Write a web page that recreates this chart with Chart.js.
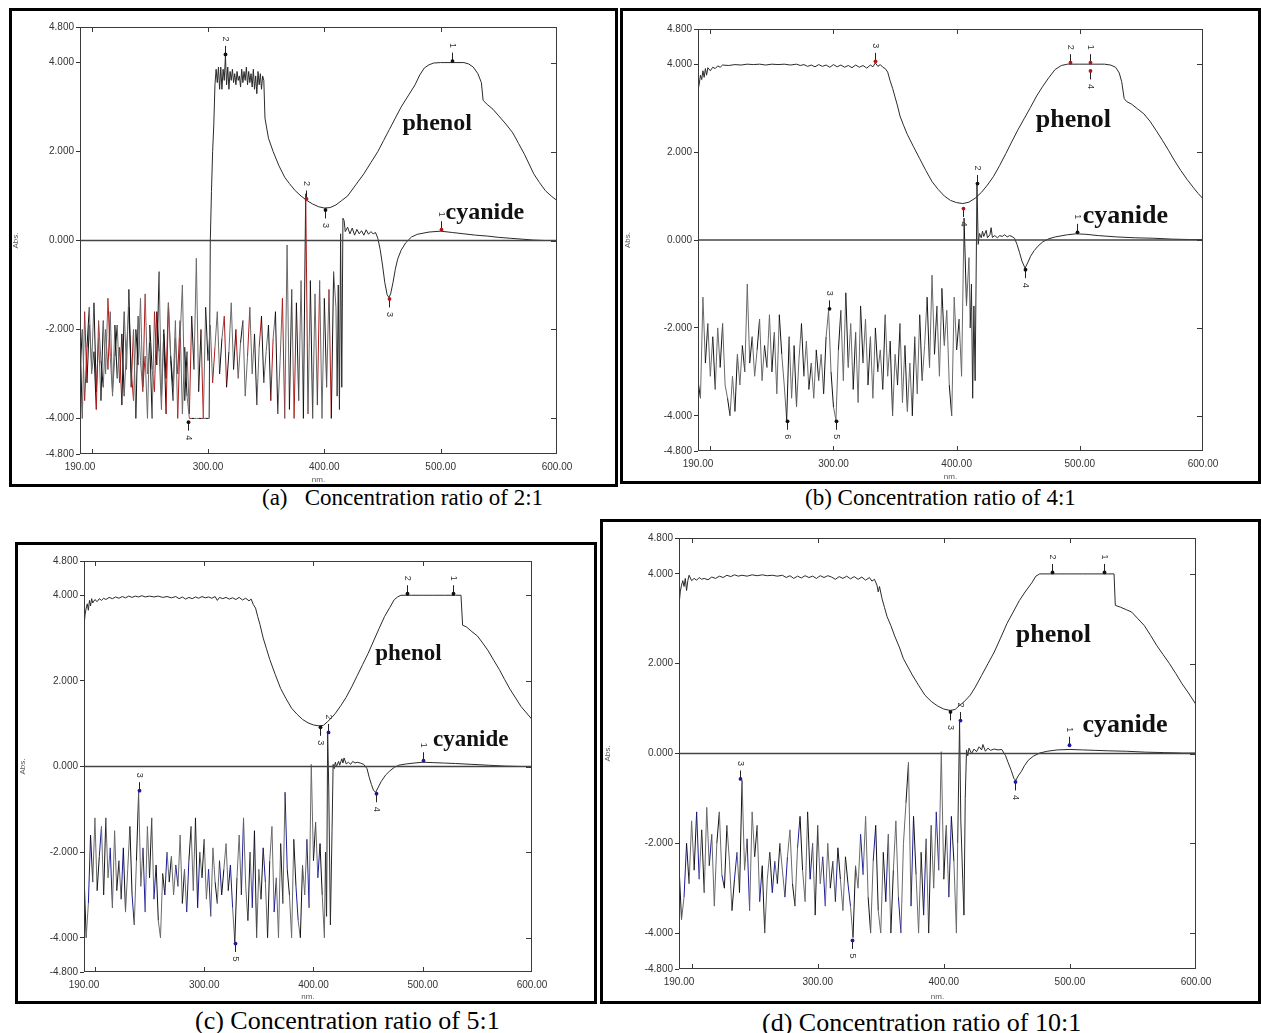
<!DOCTYPE html>
<html><head><meta charset="utf-8">
<script src="https://cdn.jsdelivr.net/npm/chart.js@4.4.1/dist/chart.umd.min.js"></script>
<style>
body{margin:0;background:#fff;width:1261px;height:1033px;position:relative;overflow:hidden;}
.box{position:absolute;border:3px solid #000;box-sizing:border-box;}
.cap{position:absolute;font-family:"Liberation Serif","Times New Roman",serif;font-size:26px;line-height:26px;color:#000;white-space:pre;}
.cap.small{font-size:23px;line-height:23px;}
canvas{position:absolute;}
</style></head><body>
<div class="box" style="left:9px;top:8px;width:609px;height:479px"></div>
<div class="box" style="left:620px;top:8px;width:641px;height:476px"></div>
<div class="box" style="left:15px;top:542px;width:582px;height:462px"></div>
<div class="box" style="left:600px;top:519px;width:661px;height:485px"></div>
<div class="cap small" style="left:262px;top:486px">(a)   Concentration ratio of 2:1</div>
<div class="cap small" style="left:805px;top:486px">(b) Concentration ratio of 4:1</div>
<div class="cap" style="left:195px;top:1008px">(c) Concentration ratio of 5:1</div>
<div class="cap" style="left:762px;top:1010px">(d) Concentration ratio of 10:1</div>
<script>
// ---------- axis ticks ----------
const xTickLabels = [190, 300, 400, 500, 600];
const yTickLabels = [-4.8, -4, -2, 0, 2, 4, 4.8];
const xInnerTicks = [200, 300, 400, 500];
const yInnerTicks = [-4, -2, 0, 2, 4];
const baseNm = [190, 600];
const baseAbs = [0, 0];

// ---------- shared wavelength grid of the noisy region (nm) ----------
const noiseNm = [190,192,194,196,198,200,202,204,206,208,
 210,212,214,216,218,220,222,224,226,228,
 230,232,234,236,238,240,242,244,246,248,
 250,252,254,256,258,260,262,264,266,268,
 270,272,274,276,278,280,282,284,286,288,
 290,292,294,296,298,300,302,304,306,308,
 310,312,314,316,318,320,322,324,326,328,
 330,332,334,336,338,340,342,344,346,348,
 350,352,354,356,358,360,362,364,366,368,
 370,372,374,376,378,380,382,384,386,388,
 390,392,394,396,398,400,402,404,406,408,
 410];

// ---------- (a) 2:1 ----------
const aPhenolNoise = [-3.0,-2.0,-3.6,-2.4,-1.5,-3.0,-2.5,-3.8,-1.8,-2.7,
 -3.3,-2.0,-2.9,-1.6,-3.4,-2.6,-1.9,-3.2,-2.1,-3.5,
 -2.4,-1.5,-2.9,-3.6,-2.0,-2.8,-1.3,-3.3,-2.6,-4.0,
 -1.9,-2.9,-3.4,-1.6,-2.5,-3.8,-2.0,-3.1,-1.4,-2.7,
 -3.6,-2.2,-3.0,-1.8,-3.9,-2.4,-3.5,
 -4.0,-4.0,-4.0,-4.0,-4.0,-4.0,-4.0,-4.0,-4.0];
const aPhenolTail = [[301,-4.0],[302,0.0],[303,1.1],[304,2.0],[305,2.6],[306,3.5],[307,3.85],
 [308,3.55],[309,3.9],[310,3.4],[311,3.9],[312,3.4],[313,3.85],[314,3.6],[315,4.15],[316,3.5],[317,3.9],
 [318,3.4],[319,3.8],[320,3.6],[321,3.85],[322,3.55],[323,3.75],[324,3.5],[325,3.8],[326,3.6],[327,3.7],
 [328,3.45],[329,3.85],[330,3.55],[331,3.8],[332,3.6],[333,3.9],[334,3.5],[335,3.8],[336,3.55],[337,3.75],
 [338,3.45],[339,3.85],[340,3.4],[341,3.7],[342,3.3],[343,3.8],[344,3.5],[345,3.75],[346,3.4],[347,3.7],[348,3.6],
 [349,2.75],[352,2.3],[356,2.0],[361,1.68],[366,1.42],[370,1.28],[375,1.12],[380,1.0],[385,0.9],[390,0.82],
 [395,0.76],[400,0.73],[405,0.74],[410,0.8],[415,0.9],[420,1.0],[427,1.25],[434,1.5],[440,1.75],[446,2.0],
 [451,2.25],[456,2.5],[461,2.75],[466,3.0],[472,3.25],[478,3.5],[482,3.72],[486,3.88],[490,3.95],[494,3.99],
 [500,4.0],[510,4.0],[520,4.0],[524,3.97],[528,3.9],[532,3.75],[535,3.55],[536.5,3.15],[540,3.06],[545,2.95],
 [550,2.8],[556,2.62],[562,2.42],[567,2.18],[572,1.94],[576,1.72],[580,1.5],[585,1.3],[590,1.12],[595,1.0],[600,0.9]];
const aCyanideNoise = [-2.1,-4.0,-1.6,-3.2,-1.9,-2.8,-1.4,-3.4,-2.2,-3.6,
 -1.8,-3.0,-1.3,-2.6,-3.5,-1.9,-3.1,-2.4,-3.7,-1.6,
 -2.9,-1.1,-3.3,-2.0,-4.0,-1.7,-2.7,-3.4,-1.2,-3.0,
 -2.3,-4.0,-1.6,-2.8,-0.7,-3.5,-2.1,-3.9,-1.4,-2.6,
 -3.3,-1.8,-4.0,-2.2,-1.0,-3.6,-2.5,-3.9,-1.7,-2.9,
 -0.4,-3.4,-2.0,-4.0,-1.5,-2.7,-1.9,-3.2,-2.4,-1.6,
 -3.0,-2.2,-1.7,-3.3,-2.5,-1.4,-2.9,-2.0,-3.1,-2.3,
 -1.8,-3.5,-2.6,-1.5,-3.0,-2.1,-3.7,-2.4,-1.7,-3.2,
 -2.5,-1.9,-3.6,-2.2,-1.6,-3.9,-2.7,-1.3,-4.0,-0.1,
 -3.8,-1.1,-4.0,-1.4,-3.6,-0.9,-4.0,1.05,-3.9,-0.9,
 -4.0,-1.2,-3.7,-0.9,-4.0,-1.3,-3.3,-1.1,-4.0,-0.7,
 -1.5];
const aCyanideTail = [[411,-3.5],[412,-1.0],[413,-3.8],[414,0.15],[415,-3.3],[416,0.5],[417,0.45],[418,0.2],
 [420,0.3],[422,0.15],[424,0.28],[426,0.12],[428,0.25],[430,0.15],[432,0.22],[434,0.12],[436,0.24],[438,0.14],
 [440,0.2],[442,0.15],[444,0.18],[446,0.05],[448,-0.2],[450,-0.55],[452,-0.95],[454,-1.22],[455.5,-1.28],
 [457,-1.2],[459,-0.95],[461,-0.65],[463,-0.42],[466,-0.22],[470,-0.05],[475,0.08],[480,0.14],[490,0.19],
 [500,0.21],[510,0.18],[520,0.15],[530,0.12],[540,0.1],[550,0.07],[560,0.05],[570,0.03],[580,0.01],[590,0],[600,0]];
const aMarkers = [[315,4.15,'2','a','#111'],[384,0.9,'2','a','#b01818'],[401,0.72,'3','b','#111'],
 [510,4.0,'1','a','#111'],[500,0.21,'1','a','#b01818'],[455.5,-1.28,'3','b','#b01818'],[283,-4.05,'4','b','#111']];

// ---------- (b) 4:1 ----------
const bPhenol = [[190,3.4],[191,3.55],[192,3.75],[193,3.65],[194,3.85],[195,3.7],[196,3.9],[197,3.75],[198,3.92],
 [200,3.85],[202,3.93],[204,3.9],[206,3.96],[208,3.93],[210,3.98],[215,3.97],[220,3.99],[225,3.98],[230,4.0],
 [235,3.99],[240,4.0],[245,3.98],[250,4.0],[255,3.99],[260,4.0],[265,3.98],[270,4.0],[273,3.97],[276,3.99],
 [279,3.95],[282,3.98],[285,3.94],[288,3.99],[291,3.95],[294,3.98],[297,3.93],[300,3.99],[303,3.94],[306,3.98],
 [309,3.93],[312,3.97],[315,3.92],[318,3.98],[321,3.93],[324,3.97],[327,3.91],[330,3.98],[332,3.94],[334,4.03],
 [336,3.95],[338,3.99],[340,3.93],[342,3.9],[344,3.82],[346,3.62],[348,3.45],[350,3.25],[352,3.05],[354,2.82],
 [357,2.6],[360,2.4],[365,2.12],[370,1.85],[375,1.58],[380,1.33],[385,1.15],[390,1.0],[395,0.9],[400,0.85],
 [405,0.83],[410,0.86],[415,0.95],[420,1.08],[425,1.25],[430,1.45],[435,1.7],[440,1.97],[445,2.25],[450,2.52],
 [455,2.77],[460,3.02],[465,3.28],[470,3.5],[475,3.7],[480,3.88],[485,3.97],[490,4.0],[500,4.0],[510,4.0],
 [520,4.0],[525,3.98],[529,3.93],[532,3.8],[534,3.6],[536,3.22],[538,3.15],[542,3.09],[547,2.98],[552,2.87],
 [557,2.7],[562,2.49],[567,2.27],[572,2.04],[577,1.8],[582,1.58],[587,1.38],[592,1.2],[596,1.06],[600,0.94]];
const bCyanideNoise = [-3.2,-3.6,-1.3,-2.8,-1.9,-3.1,-2.2,-3.4,-2.0,-2.9,
 -1.9,-3.3,-3.6,-4.0,-3.1,-3.9,-2.6,-3.3,-2.4,-3.0,
 -1.0,-2.8,-2.2,-3.1,-2.5,-1.8,-3.2,-2.4,-2.9,-1.7,
 -3.0,-2.1,-3.5,-1.7,-2.6,-3.3,-4.1,-2.2,-3.6,-2.4,
 -3.8,-2.7,-1.9,-3.1,-2.3,-3.4,-2.8,-3.6,-2.5,-3.2,
 -2.6,-3.5,-2.2,-1.6,-3.0,-3.8,-4.1,-2.5,-1.6,-3.2,
 -1.2,-2.9,-1.9,-3.4,-2.1,-3.7,-1.5,-2.8,-1.8,-3.3,
 -2.2,-3.6,-2.0,-3.0,-2.5,-3.4,-1.7,-3.1,-2.3,-4.0,
 -2.6,-3.3,-1.9,-3.7,-2.4,-3.9,-2.8,-4.0,-2.2,-3.5,
 -1.7,-3.2,-2.4,-1.3,-2.9,-0.8,-2.6,-1.5,-3.1,-1.1,
 -2.4,-1.6,-3.3,-4.0,-1.3,-2.5,-1.8,-3.1,0.5,-1.5,
 -0.4];
const bCyanideTail = [[411,-2.0],[412,-1.0],[413,-3.6],[414,-1.5],[415,-3.2],[416.5,1.25],[417.5,-0.1],[418.5,0.15],
 [420,0.05],[421,0.2],[422,0.08],[424,0.22],[425,0.05],[427,0.12],[428,0.28],[429,0.06],[431,0.1],[433,0.05],
 [435,0.1],[437,0.08],[439,0.12],[441,0.07],[443,0.1],[445,0.08],[447,0.04],[449,-0.1],[451,-0.28],[453,-0.48],
 [455.5,-0.64],[458,-0.5],[460,-0.37],[463,-0.24],[466,-0.14],[470,-0.04],[475,0.03],[480,0.07],[490,0.12],
 [497,0.14],[505,0.13],[515,0.1],[530,0.07],[545,0.05],[560,0.04],[575,0.02],[590,0.01],[600,0.01]];
const bMarkers = [[334,4.03,'3','a','#b01818'],[492,4.0,'2','a','#b01818'],[508.5,4.0,'1','a','#b01818'],
 [508.5,3.88,'4','b','#b01818'],[405.5,0.75,'4','b','#b01818'],[416.5,1.25,'2','a','#111'],
 [455.5,-0.64,'4','b','#111'],[497.5,0.14,'1','a','#111'],[296,-1.6,'3','a','#111'],
 [262.4,-4.09,'6','b','#111'],[302,-4.09,'5','b','#111']];

// ---------- (c) 5:1 ----------
const cPhenol = [[190,3.28],[191,3.55],[192,3.7],[193,3.8],[194,3.65],[195,3.88],[196,3.75],[197,3.92],[198,3.82],
 [200,3.9],[202,3.85],[204,3.92],[206,3.88],[208,3.93],[210,3.9],[213,3.95],[216,3.92],[219,3.96],[222,3.93],
 [225,3.97],[228,3.94],[231,3.98],[234,3.95],[237,3.98],[240,3.96],[243,3.99],[246,3.96],[250,3.98],[254,3.96],
 [258,3.98],[262,3.95],[266,3.97],[270,3.94],[274,3.97],[277,3.92],[280,3.96],[283,3.91],[286,3.95],[289,3.92],
 [292,3.96],[295,3.93],[298,3.97],[301,3.94],[304,3.96],[307,3.93],[310,3.97],[312,3.88],[314,3.95],[317,3.92],
 [320,3.95],[323,3.91],[326,3.94],[329,3.9],[332,3.95],[335,3.89],[338,3.93],[341,3.87],[343,3.91],[345,3.78],
 [347,3.7],[349,3.5],[351,3.32],[354,3.0],[357,2.75],[360,2.5],[365,2.15],[370,1.82],[375,1.58],[380,1.36],
 [385,1.22],[390,1.1],[395,1.02],[400,0.97],[405,0.95],[409,0.96],[413,1.05],[417,1.15],[420,1.24],[425,1.42],
 [430,1.62],[435,1.86],[440,2.12],[445,2.38],[450,2.64],[455,2.93],[460,3.22],[465,3.5],[470,3.72],[474,3.9],
 [477,3.96],[480,4.0],[490,4.0],[500,4.0],[510,4.0],[520,4.0],[530,4.0],[535,4.0],[536.5,3.3],[540,3.26],
 [545,3.15],[550,3.05],[555,2.88],[560,2.7],[565,2.48],[570,2.27],[575,2.03],[580,1.8],[585,1.6],[590,1.4],
 [595,1.25],[600,1.1]];
const cCyanideNoise = [-2.5,-4.0,-3.2,-1.6,-2.7,-1.2,-2.9,-2.1,-1.4,-3.0,
 -1.2,-2.6,-1.9,-3.3,-1.5,-2.9,-2.2,-3.1,-1.9,-3.4,
 -2.4,-1.4,-3.0,-3.7,-2.2,-0.6,-2.8,-1.9,-3.4,-1.4,
 -2.6,-1.2,-3.1,-2.3,-3.6,-4.0,-2.5,-3.0,-2.0,-2.7,
 -2.1,-3.0,-2.3,-2.8,-1.6,-3.2,-2.4,-3.4,-2.2,-1.4,
 -2.9,-1.2,-3.3,-2.0,-2.6,-1.7,-3.1,-2.4,-3.5,-1.9,
 -2.7,-3.2,-2.2,-3.0,-2.4,-1.8,-2.9,-2.3,-3.3,-4.1,
 -2.6,-1.6,-3.0,-1.2,-2.8,-3.6,-2.0,-3.3,-1.5,-4.0,
 -2.4,-3.1,-1.9,-2.7,-4.0,-2.2,-1.4,-3.4,-2.6,-4.0,
 -1.8,-3.2,-0.6,-2.4,-3.0,-4.0,-1.7,-2.8,-3.6,-4.0,
 -2.3,-3.0,-1.7,-3.3,0.05,-2.2,-1.3,-2.6,-1.8,-3.0,
 -4.0];
const cCyanideTail = [[411,-2.0],[412,-3.5],[413,0.76],[414,-0.5],[415.5,-3.7],[417,-1.5],[418,0.05],[419,-0.05],
 [420,0.1],[421,0.0],[423,0.12],[424,0.03],[426,0.18],[427,0.08],[428,0.2],[430,0.06],[432,0.1],[434,0.05],
 [436,0.12],[438,0.08],[440,0.1],[443,0.08],[446,0.05],[449,-0.05],[451,-0.25],[453,-0.42],[455,-0.56],
 [457,-0.6],[459,-0.5],[462,-0.35],[466,-0.2],[470,-0.1],[474,-0.02],[478,0.03],[485,0.06],[492,0.08],
 [500,0.1],[510,0.09],[520,0.08],[530,0.07],[545,0.05],[560,0.03],[575,0.01],[590,0],[600,0]];
const cMarkers = [[486,4.0,'2','a','#111'],[527.5,4.0,'1','a','#111'],[405.7,0.95,'3','b','#111'],
 [413,0.76,'2','a','#1b1b9a'],[240,-0.6,'3','a','#1b1b9a'],[328,-4.1,'5','b','#1b1b9a'],
 [457,-0.6,'4','b','#1b1b9a'],[500,0.1,'1','a','#1b1b9a']];

// ---------- (d) 10:1 ----------
const dPhenol = [[190,3.3],[191,3.6],[192,3.75],[193,3.85],[194,3.72],[195,3.9],[196,3.63],[197,3.85],[198,3.97],
 [200,3.85],[202,3.9],[204,3.86],[206,3.92],[208,3.88],[210,3.9],[213,3.87],[216,3.93],[219,3.9],[222,3.95],
 [225,3.92],[228,3.97],[231,3.94],[234,3.98],[237,3.95],[240,3.97],[244,3.95],[248,3.98],[252,3.96],[256,3.98],
 [260,3.96],[264,3.97],[268,3.95],[272,3.97],[275,3.92],[278,3.96],[281,3.9],[284,3.95],[287,3.91],[290,3.96],
 [293,3.92],[296,3.95],[299,3.9],[302,3.96],[305,3.92],[308,3.96],[311,3.93],[314,3.88],[317,3.94],[320,3.9],
 [323,3.95],[326,3.89],[329,3.94],[332,3.88],[335,3.93],[338,3.86],[341,3.92],[343,3.84],[345,3.88],[347,3.75],
 [348,3.6],[349,3.72],[351,3.45],[353,3.25],[355,3.05],[358,2.85],[361,2.62],[365,2.35],[368,2.11],[375,1.75],
 [380,1.52],[385,1.3],[390,1.16],[395,1.06],[400,0.99],[405,0.96],[409,0.98],[412,1.06],[416,1.15],[421,1.3],
 [425,1.48],[430,1.74],[435,2.0],[440,2.26],[445,2.57],[450,2.89],[455,3.15],[460,3.41],[465,3.62],[470,3.81],
 [473,3.95],[476,4.0],[490,4.0],[500,4.0],[510,4.0],[520,4.0],[530,4.0],[535,4.0],[536,3.3],[540,3.26],
 [545,3.2],[549,3.15],[554,3.0],[559,2.85],[564,2.63],[569,2.4],[574,2.2],[579,2.0],[584,1.78],[589,1.55],
 [594,1.35],[600,1.09]];
const dCyanideNoise = [-2.5,-3.7,-3.2,-2.0,-2.9,-1.5,-2.6,-1.3,-2.8,-1.7,
 -3.1,-1.2,-2.5,-1.8,-3.4,-2.0,-1.3,-2.7,-3.0,-1.6,
 -2.4,-3.5,-2.8,-2.2,-3.1,-0.6,-2.6,-1.9,-3.5,-1.3,
 -2.3,-1.6,-3.3,-2.5,-4.0,-2.8,-2.2,-3.1,-2.4,-2.9,
 -2.0,-2.6,-3.2,-2.3,-1.7,-2.9,-3.4,-2.1,-1.4,-2.6,
 -3.3,-1.3,-2.8,-2.0,-3.6,-1.6,-2.9,-2.3,-3.4,-2.0,
 -3.0,-2.4,-3.3,-2.1,-2.8,-3.5,-2.3,-2.9,-3.4,-4.1,
 -2.5,-3.0,-1.8,-2.7,-1.4,-3.2,-4.0,-2.4,-1.6,-3.5,
 -4.0,-2.2,-3.3,-1.8,-4.0,-2.6,-1.5,-3.2,-4.0,-2.0,
 -1.1,-0.2,-3.4,-1.4,-2.7,-4.0,-2.2,-3.6,-1.9,-4.0,
 -1.6,-3.0,-1.3,-2.6,0.04,-2.8,-1.6,-3.2,-1.4,-2.4,
 -4.0];
const dCyanideTail = [[411,-2.0],[412.5,0.7],[413.5,-1.5],[415,-2.8],[416,-3.6],[417,-1.0],[418,0.08],[419,-0.05],
 [420,0.12],[422,0.0],[424,0.1],[426,0.04],[428,0.15],[430,0.08],[431,0.2],[433,0.05],[435,0.12],[437,0.07],
 [440,0.1],[443,0.08],[446,0.09],[449,-0.05],[451,-0.2],[453.5,-0.38],[455.5,-0.55],[457,-0.6],[459,-0.5],
 [461.5,-0.4],[464,-0.27],[467,-0.15],[471,-0.06],[476,0.01],[482,0.05],[490,0.08],[500,0.09],[510,0.08],
 [520,0.07],[530,0.06],[545,0.05],[560,0.03],[575,0.02],[590,0.01],[600,0.01]];
const dMarkers = [[486,4.0,'2','a','#111'],[527,4.0,'1','a','#111'],[405,0.96,'3','b','#111'],
 [412.5,0.7,'2','a','#1b1b9a'],[238.5,-0.6,'3','a','#1b1b9a'],[327,-4.13,'5','b','#1b1b9a'],
 [456.7,-0.6,'4','b','#1b1b9a'],[499.6,0.15,'1','a','#1b1b9a']];

// ---------- helpers ----------
const fromGrid = (xs, ys) => ys.map((v, i) => ({x: xs[i], y: v}));
const fromPairs = p => p.map(q => ({x: q[0], y: q[1]}));

const specPlugin = {
  id: 'spec',
  afterDatasetsDraw(chart, args, o) {
    const {ctx, chartArea: a, scales: {x, y}} = chart;
    ctx.save();
    ctx.strokeStyle = '#3a3a3a'; ctx.lineWidth = 1;
    ctx.strokeRect(Math.round(a.left) + 0.5, Math.round(a.top) + 0.5, Math.round(a.right - a.left) - 1, Math.round(a.bottom - a.top) - 1);
    ctx.beginPath();
    xInnerTicks.forEach(v => { const px = Math.round(x.getPixelForValue(v)) + 0.5;
      ctx.moveTo(px, a.top); ctx.lineTo(px, a.top + 5); ctx.moveTo(px, a.bottom); ctx.lineTo(px, a.bottom - 5); });
    yInnerTicks.forEach(v => { const py = Math.round(y.getPixelForValue(v)) + 0.5;
      ctx.moveTo(a.right, py); ctx.lineTo(a.right - 6, py); });
    ctx.stroke();
    // peak markers
    o.markers.forEach(m => {
      const px = Math.round(x.getPixelForValue(m[0])) + 0.5, py = y.getPixelForValue(m[1]);
      const d = m[3] === 'a' ? -1 : 1;
      ctx.strokeStyle = '#222'; ctx.lineWidth = 1;
      ctx.beginPath(); ctx.moveTo(px, py + d * 2); ctx.lineTo(px, py + d * 10); ctx.stroke();
      ctx.fillStyle = m[4];
      ctx.beginPath(); ctx.arc(px, py + d * 1.5, 1.9, 0, Math.PI * 2); ctx.fill();
      ctx.save(); ctx.translate(px, py + d * 17); ctx.rotate(Math.PI / 2);
      ctx.fillStyle = '#333'; ctx.font = '9px "Liberation Sans"';
      ctx.textAlign = 'center'; ctx.textBaseline = 'middle'; ctx.fillText(m[2], 0, 0); ctx.restore();
    });
    // curve names
    ctx.fillStyle = '#111'; ctx.textAlign = 'center'; ctx.textBaseline = 'middle';
    o.texts.forEach(t => {
      ctx.font = 'bold ' + t[3] + 'px "Liberation Serif"';
      ctx.fillText(t[2], x.getPixelForValue(t[0]), y.getPixelForValue(t[1]));
    });
    // axis titles
    ctx.fillStyle = '#555'; ctx.font = '8px "Liberation Sans"';
    ctx.fillText('nm.', (a.left + a.right) / 2, a.bottom + o.nmOff);
    ctx.save(); ctx.translate(a.left + o.absOff, (a.top + a.bottom) / 2); ctx.rotate(-Math.PI / 2);
    ctx.fillText('Abs.', 0, 0); ctx.restore();
    ctx.restore();
  }
};

function noisy(points, n, accent) {
  return {
    data: points, borderColor: '#2a2a2a', borderWidth: 1, pointRadius: 0, tension: 0,
    segment: { borderColor: c => { const i = c.p0DataIndex; if (i >= n) return undefined;
      if (accent && i % 5 === 2) return accent; return i % 3 === 0 ? '#111' : '#6a6a6a'; } }
  };
}

function makeChart(fr, datasets, spec) {
  const L = 76, T = 12, R = 30, B = 32;
  const cv = document.createElement('canvas');
  const w = fr.w + L + R, h = fr.h + T + B;
  cv.width = w; cv.height = h;
  cv.style.left = (fr.l - L) + 'px'; cv.style.top = (fr.t - T) + 'px';
  cv.style.width = w + 'px'; cv.style.height = h + 'px';
  document.body.appendChild(cv);
  const tickFont = {family: 'Liberation Sans', size: 10};
  datasets.unshift({data: fromGrid(baseNm, baseAbs), borderColor: '#444', borderWidth: 1.5, pointRadius: 0});
  new Chart(cv, {
    type: 'line',
    data: {datasets},
    options: {
      responsive: false, animation: false, devicePixelRatio: 1, events: [],
      layout: {padding: {left: 0, top: T, right: R, bottom: 0}},
      scales: {
        x: {type: 'linear', min: 190, max: 600,
          afterBuildTicks: s => { s.ticks = xTickLabels.map(v => ({value: v})); },
          afterFit: s => { s.height = B; },
          ticks: {callback: v => Number(v).toFixed(2), font: tickFont, color: '#333', padding: 7, maxRotation: 0, autoSkip: false},
          grid: {display: false, drawTicks: false}, border: {display: false}},
        y: {type: 'linear', min: -4.8, max: 4.8,
          afterBuildTicks: s => { s.ticks = yTickLabels.map(v => ({value: v})); },
          afterFit: s => { s.width = L; },
          ticks: {callback: v => Number(v).toFixed(3), font: tickFont, color: '#333', padding: 2, autoSkip: false},
          grid: {display: true, drawOnChartArea: false, drawTicks: true, tickLength: 4, color: '#333', tickColor: '#333'},
          border: {display: false}}
      },
      plugins: {legend: {display: false}, tooltip: {enabled: false}, spec}
    },
    plugins: [specPlugin]
  });
}

// (a)
makeChart({l: 80, t: 27, w: 477, h: 427}, [
  noisy(fromGrid(noiseNm, aCyanideNoise).concat(fromPairs(aCyanideTail)), aCyanideNoise.length, '#b01818'),
  noisy(fromGrid(noiseNm, aPhenolNoise).concat(fromPairs(aPhenolTail)), aPhenolNoise.length, '#b01818')
], {markers: aMarkers, texts: [[497, 2.62, 'phenol', 24], [538, 0.63, 'cyanide', 24]], absOff: -64, nmOff: 26});
// (b)
makeChart({l: 698, t: 29, w: 505, h: 422}, [
  noisy(fromGrid(noiseNm, bCyanideNoise).concat(fromPairs(bCyanideTail)), bCyanideNoise.length, null),
  noisy(fromPairs(bPhenol), 0, null)
], {markers: bMarkers, texts: [[494.7, 2.72, 'phenol', 26], [537, 0.53, 'cyanide', 26]], absOff: -70, nmOff: 26});
// (c)
makeChart({l: 84, t: 561, w: 448, h: 411}, [
  noisy(fromGrid(noiseNm, cCyanideNoise).concat(fromPairs(cCyanideTail)), cCyanideNoise.length, '#1b1b9a'),
  noisy(fromPairs(cPhenol), 0, null)
], {markers: cMarkers, texts: [[487, 2.63, 'phenol', 23], [544, 0.62, 'cyanide', 23]], absOff: -61, nmOff: 25});
// (d)
makeChart({l: 679, t: 538, w: 517, h: 431}, [
  noisy(fromGrid(noiseNm, dCyanideNoise).concat(fromPairs(dCyanideTail)), dCyanideNoise.length, '#1b1b9a'),
  noisy(fromPairs(dPhenol), 0, null)
], {markers: dMarkers, texts: [[486.9, 2.64, 'phenol', 26], [543.7, 0.63, 'cyanide', 26]], absOff: -71, nmOff: 28});
</script>
</body></html>
